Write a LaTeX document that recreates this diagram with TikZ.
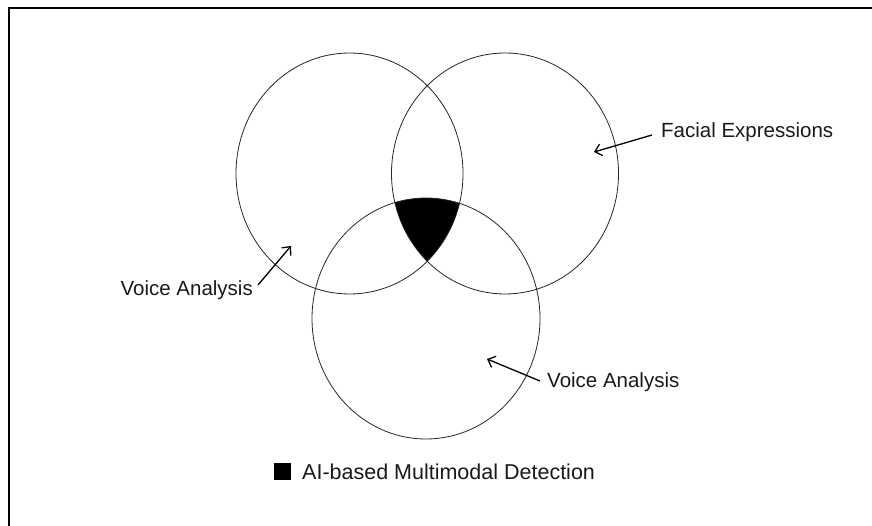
\documentclass[tikz,border=0pt]{standalone}
\usepackage{fontspec}
\setmainfont{Liberation Sans}
\usetikzlibrary{arrows.meta}
\begin{document}
\begin{tikzpicture}[x=1pt,y=-1pt,
  venn/.style={draw=black!85,line width=0.8pt},
  lbl/.style={inner sep=0pt,font=\fontsize{20.5}{24}\selectfont,text=black!90},
  arr/.style={line width=1.3pt,-{Straight Barb[length=6.5pt,width=12pt,line width=1.3pt]}},
  frameline/.style={line width=2pt,black}]
\useasboundingbox (0,0) rectangle (872,526);
% frame
\coordinate (fbl) at (9,530);
\coordinate (ftl) at (9,8);
\coordinate (ftr) at (876,8);
\draw[frameline] (fbl) -- (ftl) -- (ftr);
% black triple intersection
\begin{scope}
  \clip (349.5,173.5) ellipse [x radius=113.5,y radius=120.5];
  \clip (505,173.5) ellipse [x radius=113.5,y radius=120.5];
  \fill[black] (426,318.5) ellipse [x radius=114,y radius=120.5];
\end{scope}
% circles
\draw[venn] (349.5,173.5) ellipse [x radius=113.5,y radius=120.5];
\draw[venn] (505,173.5) ellipse [x radius=113.5,y radius=120.5];
\draw[venn] (426,318.5) ellipse [x radius=114,y radius=120.5];
% labels
\node[lbl,anchor=west] (fe) at (661,132) {Facial Expressions};
\node[lbl,anchor=east] (vl) at (253,290) {Voice Analysis};
\node[lbl,anchor=west] (vr) at (547,382) {Voice Analysis};
\coordinate (feT) at (594,152);
\coordinate (vlT) at (291,246);
\coordinate (vrT) at (487,359);
\draw[arr] ([xshift=-9pt,yshift=-3pt]fe.west) -- (feT);
\draw[arr] ([xshift=5pt,yshift=5pt]vl.east) -- (vlT);
\draw[arr] ([xshift=-7pt,yshift=1pt]vr.west) -- (vrT);
% legend
\node[fill=black,minimum size=17pt,inner sep=0pt] (sq) at (282,471.5) {};
\node[lbl,anchor=west,font=\fontsize{21.5}{25}\selectfont] (leg) at (302,472) {AI-based Multimodal Detection};
\end{tikzpicture}
\end{document}
